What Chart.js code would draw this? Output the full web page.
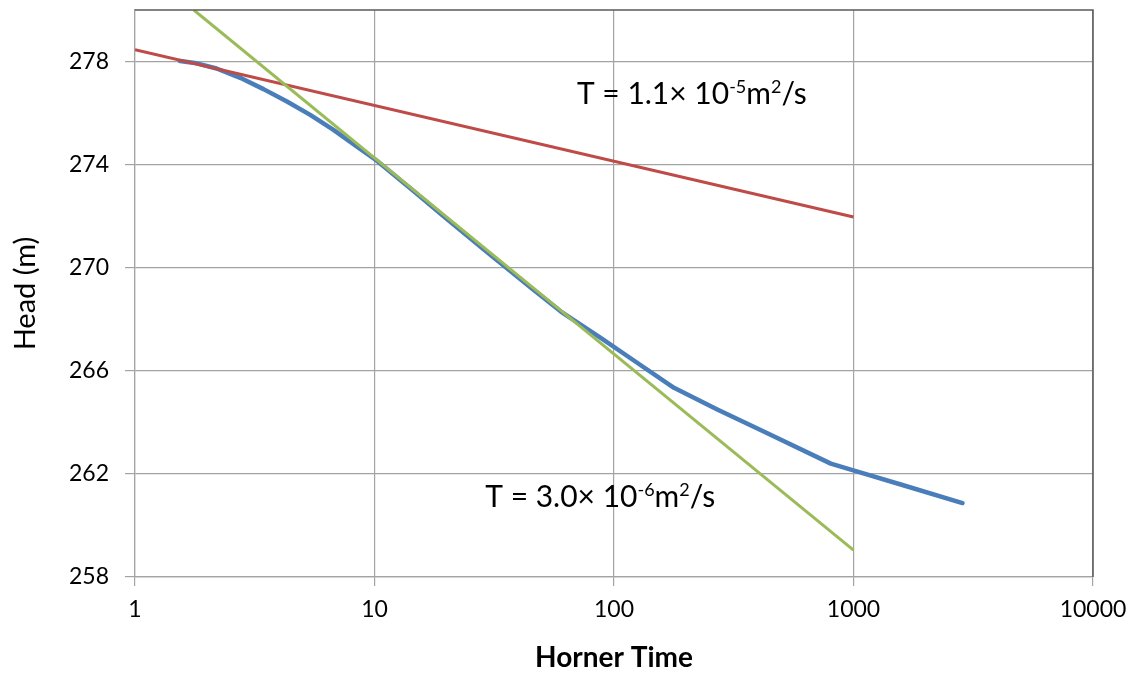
<!DOCTYPE html>
<html>
<head>
<meta charset="utf-8">
<title>Horner plot</title>
<script src="https://cdn.jsdelivr.net/npm/chart.js@4.4.1/dist/chart.umd.min.js"></script>
<style>
  html, body { margin: 0; padding: 0; background: #ffffff; }
  #wrap { width: 1138px; height: 675px; }
</style>
</head>
<body>
<div id="wrap"><canvas id="c" width="1138" height="675"></canvas></div>
<script>
// Recovery head against Horner time
const hornerTime = [1.54, 1.81, 2.19, 2.75, 3.44, 4.31, 5.39, 6.74, 8.45, 10.2, 14.6, 20, 30, 45, 60, 88, 121, 178, 270, 437, 804, 1023, 1575, 2852];
const headObserved = [278.02, 277.93, 277.73, 277.37, 276.93, 276.45, 275.93, 275.35, 274.7, 274.16, 272.97, 271.9, 270.55, 269.22, 268.3, 267.28, 266.4, 265.34, 264.5, 263.58, 262.4, 262.11, 261.59, 260.87];

// Straight-line fits on the semi-log plot
const earlyFitTime = [1, 1000];
const earlyFitHead = [278.46, 271.97];
const lateFitTime = [1.76, 1000];
const lateFitHead = [280, 259.04];

// Axis ticks
const xTickValues = [1, 10, 100, 1000, 10000];
const yTickValues = [258, 262, 266, 270, 274, 278];

// Transmissivity labels: [time, head, coefficient, exponent]
const labelEarly = [70, 276.35, '1.1', '-5'];
const labelLate = [29, 260.7, '3.0', '-6'];

const toPoints = (xs, ys) => xs.map((x, i) => ({ x: x, y: ys[i] }));

const FONT = 'Lato, "Open Sans", "DejaVu Sans", sans-serif';
const GRID = '#a3a3a3';

const background = {
  id: 'background',
  beforeDraw(chart) {
    const ctx = chart.ctx;
    ctx.save();
    ctx.fillStyle = '#ffffff';
    ctx.fillRect(0, 0, chart.width, chart.height);
    ctx.restore();
  }
};

// Darker frame along the top and right edges of the plot area
const frame = {
  id: 'frame',
  afterDatasetsDraw(chart) {
    const { ctx, chartArea: a } = chart;
    ctx.save();
    ctx.strokeStyle = '#595959';
    ctx.lineWidth = 1.5;
    ctx.beginPath();
    ctx.moveTo(a.left, a.top);
    ctx.lineTo(a.right, a.top);
    ctx.lineTo(a.right, a.bottom);
    ctx.stroke();
    ctx.restore();
  }
};

// "T = a× 10^b m²/s" written with raised exponents
function drawTLabel(ctx, x, y, coef, exp) {
  const big = '30px ' + FONT;
  const small = '18px ' + FONT;
  const rise = 11;
  const parts = [
    ['T = ' + coef + '\u00d7 10', big, 0],
    [exp, small, rise],
    ['m', big, 0],
    ['2', small, rise],
    ['/s', big, 0]
  ];
  ctx.textBaseline = 'alphabetic';
  ctx.textAlign = 'left';
  ctx.fillStyle = '#000000';
  let cx = x;
  for (const [txt, font, dy] of parts) {
    ctx.font = font;
    ctx.fillText(txt, cx, y - dy);
    cx += ctx.measureText(txt).width;
  }
}

const annotations = {
  id: 'annotations',
  afterDraw(chart) {
    const xs = chart.scales.x, ys = chart.scales.y;
    const ctx = chart.ctx;
    ctx.save();
    for (const l of [labelEarly, labelLate]) {
      drawTLabel(ctx, xs.getPixelForValue(l[0]), ys.getPixelForValue(l[1]), l[2], l[3]);
    }
    ctx.restore();
  }
};

new Chart(document.getElementById('c'), {
  type: 'scatter',
  data: {
    datasets: [
      {
        label: 'Late fit',
        data: toPoints(lateFitTime, lateFitHead),
        showLine: true,
        borderColor: '#9bbb59',
        borderWidth: 3,
        pointRadius: 0,
        order: 0
      },
      {
        label: 'Early fit',
        data: toPoints(earlyFitTime, earlyFitHead),
        showLine: true,
        borderColor: '#be4b48',
        borderWidth: 3,
        pointRadius: 0,
        order: 1
      },
      {
        label: 'Head',
        data: toPoints(hornerTime, headObserved),
        showLine: true,
        borderColor: '#4a7ebb',
        borderWidth: 4.5,
        borderJoinStyle: 'round',
        borderCapStyle: 'round',
        pointRadius: 0,
        order: 2
      }
    ]
  },
  options: {
    responsive: false,
    animation: false,
    devicePixelRatio: 1,
    layout: { padding: { top: 10, right: 45, left: 0, bottom: 0 } },
    plugins: {
      legend: { display: false },
      tooltip: { enabled: false }
    },
    scales: {
      x: {
        type: 'logarithmic',
        min: 1,
        max: 10000,
        afterBuildTicks(scale) { scale.ticks = xTickValues.map(v => ({ value: v })); },
        afterFit(scale) {
          scale.height = 98;
          scale.paddingLeft = 0;
          scale.paddingRight = 0;
        },
        grid: { color: GRID, lineWidth: 1.2, tickLength: 9, drawTicks: true },
        border: { color: GRID, width: 1.2 },
        ticks: {
          color: '#000000',
          font: { family: FONT, size: 23 },
          padding: 10,
          maxRotation: 0,
          autoSkip: false,
          callback: (v) => String(v)
        },
        title: {
          display: true,
          text: 'Horner Time',
          color: '#000000',
          font: { family: FONT, size: 28, weight: 'bold' },
          padding: { top: 0, bottom: 0 }
        }
      },
      y: {
        min: 258,
        max: 280,
        afterBuildTicks(scale) { scale.ticks = yTickValues.map(v => ({ value: v })); },
        afterFit(scale) {
          scale.width = 135;
          scale.paddingTop = 0;
          scale.paddingBottom = 0;
        },
        grid: { color: GRID, lineWidth: 1.2, tickLength: 10, drawTicks: true },
        border: { color: GRID, width: 1.2 },
        ticks: {
          color: '#000000',
          font: { family: FONT, size: 23 },
          padding: 16,
          autoSkip: false,
          callback: (v) => String(v)
        },
        title: {
          display: true,
          text: 'Head (m)',
          color: '#000000',
          font: { family: FONT, size: 29 },
          padding: { top: 8, bottom: 0 }
        }
      }
    }
  },
  plugins: [background, frame, annotations]
});
</script>
</body>
</html>
